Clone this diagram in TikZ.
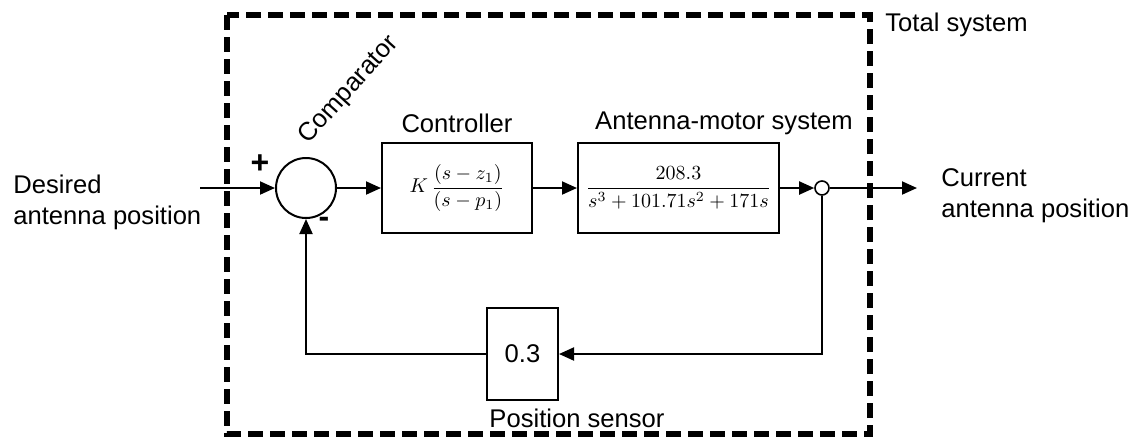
\documentclass[tikz,border=0pt]{standalone}
\usepackage{fontspec}
\setmainfont{Liberation Sans}
\usetikzlibrary{arrows.meta}

\tikzset{
    block/.style={draw, line width=1pt, inner sep=0pt},
    signal/.style={line width=1pt, -{Triangle[length=7.5pt, width=6.5pt]}},
    wire/.style={line width=1pt},
    txt/.style={font=\fontsize{12.8}{15.5}\selectfont, inner sep=0pt}
}

\begin{document}
\begin{tikzpicture}[x=0.5pt, y=-0.5pt]

    \useasboundingbox (0, 0) rectangle (1147, 447);

    \def\lineY{188}
    \def\boxH{45pt}

    % total system border
    \draw[line width=2.8pt, dash pattern=on 7.5pt off 3.5pt] (227, 15) rectangle (870, 434);
    \node[txt, anchor=west] (total) at (885, 25) {Total system};

    % comparator
    \node[draw, circle, line width=1pt, minimum size=30pt, inner sep=0pt] (comp) at (306, \lineY) {};
    \node[txt, rotate=48] (compLabel) at (349, 90) {Comparator};
    \node[font=\fontsize{16}{16}\selectfont\bfseries, inner sep=0pt] (plus) at (260, 164) {+};
    \node[font=\fontsize{16}{16}\selectfont\bfseries, inner sep=0pt] (minus) at (324, 222) {-};

    % controller
    \node[block, minimum width=75pt, minimum height=\boxH] (ctrl) at (457, \lineY)
        {$\displaystyle K\,\frac{(s-z_1)}{(s-p_1)}$};
    \node[txt] (ctrlLabel) at (457, 123) {Controller};

    % antenna-motor system
    \node[block, minimum width=100.5pt, minimum height=\boxH] (plant) at (678.5, \lineY)
        {$\displaystyle\frac{208.3}{s^3+101.71s^2+171s}$};
    \node[txt] (plantLabel) at (724, 123) {Antenna-motor system};

    % takeoff point
    \node[draw, circle, line width=0.8pt, minimum size=7pt, inner sep=0pt] (tap) at (822, \lineY) {};

    % position sensor
    \node[block, txt, minimum width=35.5pt, minimum height=46pt] (sensor) at (522.5, 354) {0.3};
    \node[txt] (sensorLabel) at (577, 418) {Position sensor};

    % input and output
    \coordinate (in) at (200, \lineY);
    \coordinate (out) at (917, \lineY);
    \node[txt, anchor=west, align=left] (inLabel) at (13, 202) {Desired\\antenna position};
    \node[txt, anchor=west, align=left] (outLabel) at (941, 196) {Current\\antenna position};

    % forward path
    \draw[signal] (in) -- (comp.west);
    \draw[signal] (comp.east) -- (ctrl.west);
    \draw[signal] (ctrl.east) -- (plant.west);
    \draw[signal] (plant.east) -- (tap.west);
    \draw[signal] (tap.east) -- (out);

    % feedback path
    \draw[signal] (tap.south) |- (sensor.east);
    \draw[signal] (sensor.west) -| (comp.south);

\end{tikzpicture}
\end{document}
